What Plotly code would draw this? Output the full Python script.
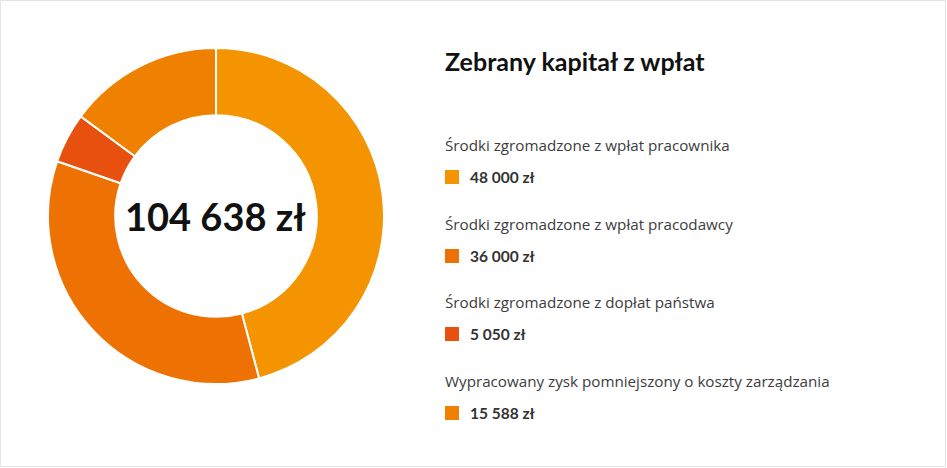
import plotly.graph_objects as go

labels = [
    "Środki zgromadzone z wpłat pracownika",
    "Środki zgromadzone z wpłat pracodawcy",
    "Środki zgromadzone z dopłat państwa",
    "Wypracowany zysk pomniejszony o koszty zarządzania",
]
values = [48000, 36000, 5050, 15588]
colors = ["#F39400", "#EE7203", "#E8500F", "#EF8000"]
title = "Zebrany kapitał z wpłat"

W, H = 947, 468


def fmt(v):
    return f"{v:,}".replace(",", " ") + " zł"


fig = go.Figure()
fig.add_trace(go.Pie(
    labels=labels,
    values=values,
    hole=0.6,
    sort=False,
    direction="clockwise",
    rotation=0,
    marker=dict(colors=colors, line=dict(color="white", width=2)),
    textinfo="none",
    hoverinfo="label+value",
    showlegend=False,
    domain=dict(x=[48 / W, 384 / W], y=[1 - 384 / H, 1 - 48 / H]),
))

annotations = []
shapes = []
# centre total
annotations.append(dict(
    x=215.5 / W, y=1 - 216 / H, xref="paper", yref="paper",
    text=f"<b>{fmt(sum(values))}</b>", showarrow=False,
    font=dict(family="Lato, sans-serif", size=38, color="#111111"),
    xanchor="center", yanchor="middle",
))
# title
annotations.append(dict(
    x=443 / W, y=1 - 61 / H, xref="paper", yref="paper",
    text=f"<b>{title}</b>", showarrow=False,
    font=dict(family="Lato, sans-serif", size=25, color="#111111"),
    xanchor="left", yanchor="middle",
))

label_y = [145, 224, 302, 381]
for i, (lab, val, col) in enumerate(zip(labels, values, colors)):
    ly = label_y[i]
    vy = ly + 32
    annotations.append(dict(
        x=443 / W, y=1 - ly / H, xref="paper", yref="paper",
        text=lab, showarrow=False,
        font=dict(family="Open Sans, sans-serif", size=15.2, color="#3c3c3c"),
        xanchor="left", yanchor="middle",
    ))
    annotations.append(dict(
        x=468 / W, y=1 - vy / H, xref="paper", yref="paper",
        text=f"<b>{fmt(val)}</b>", showarrow=False,
        font=dict(family="Lato, sans-serif", size=15.5, color="#333333"),
        xanchor="left", yanchor="middle",
    ))
    shapes.append(dict(
        type="rect", xref="paper", yref="paper",
        x0=445 / W, x1=459 / W, y0=1 - (vy + 7) / H, y1=1 - (vy - 7) / H,
        fillcolor=col, line=dict(width=0),
    ))

# outer frame
shapes.append(dict(
    type="rect", xref="paper", yref="paper",
    x0=0.5 / W, x1=1 - 1.5 / W, y0=1.5 / H, y1=1 - 0.5 / H,
    line=dict(color="#e3e3e3", width=1), fillcolor="rgba(0,0,0,0)",
))

fig.update_layout(
    width=W, height=H,
    margin=dict(l=0, r=0, t=0, b=0),
    paper_bgcolor="white", plot_bgcolor="white",
    annotations=annotations, shapes=shapes,
)

fig.write_html("out.html")
